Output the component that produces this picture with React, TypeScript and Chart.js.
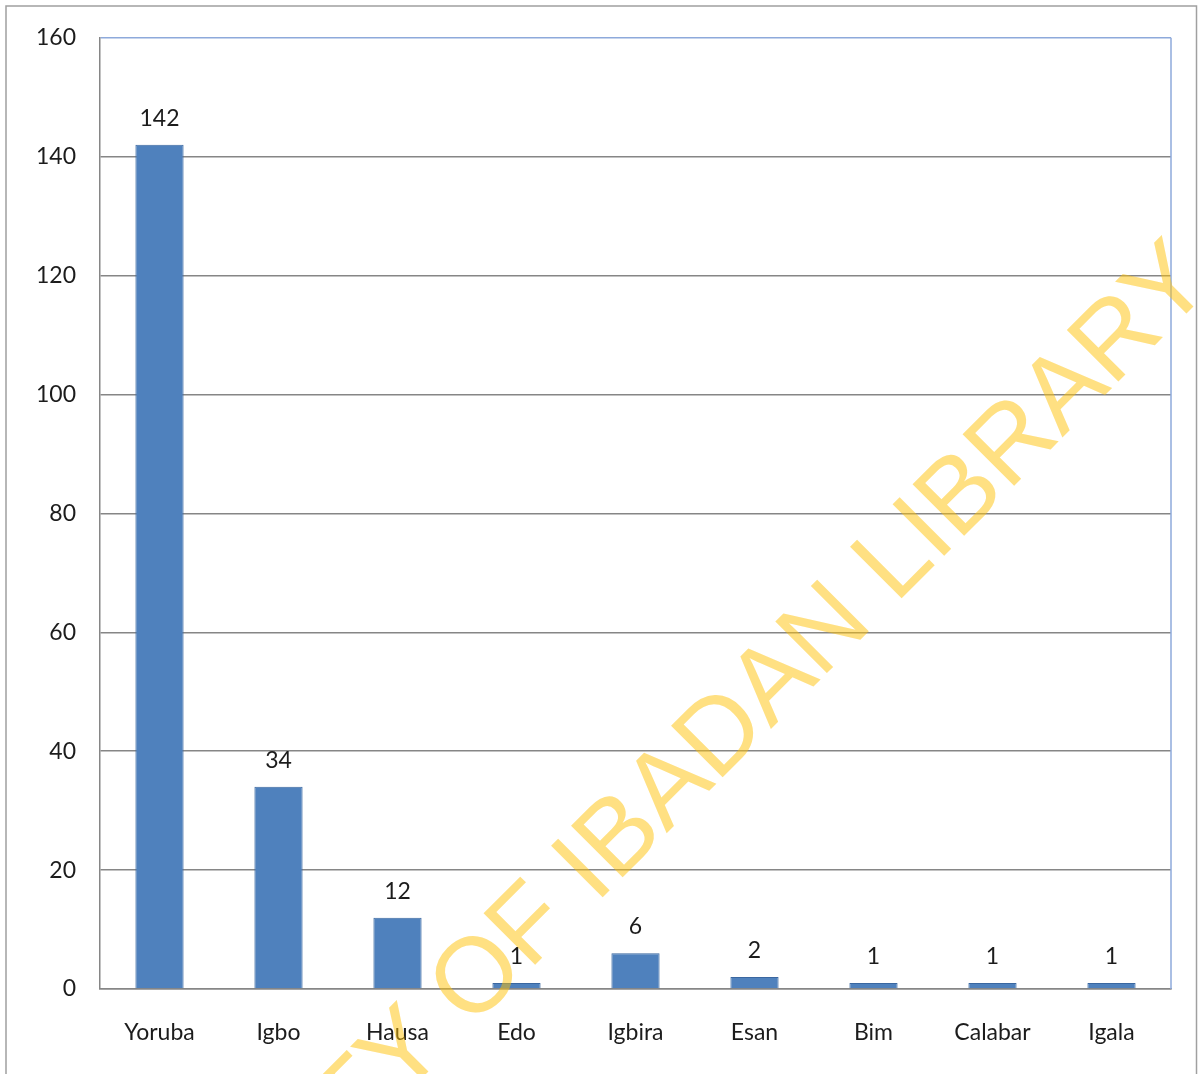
import React, { useEffect, useRef } from "react";
import { Chart, registerables } from "chart.js";

Chart.register(...registerables);

// Ethnic groups and respondent counts
const categories: string[] = ["Yoruba", "Igbo", "Hausa", "Edo", "Igbira", "Esan", "Bim", "Calabar", "Igala"];
const counts: number[] = [142, 34, 12, 1, 6, 2, 1, 1, 1];

// Value axis
const yMin = 0;
const yMax = 160;
const yStep = 20;

const watermarkText = "UNIVERSITY OF IBADAN LIBRARY";

const W = 1199;
const H = 1074;
const FONT = "Lato, 'Open Sans', sans-serif";
const FONT_SIZE = 23;
const TEXT_COLOR = "#1c1c1c";
const GRID_GRAY = "#868686";
const FRAME_BLUE = "#8eaadb";

const framePlugin = {
  id: "frame",
  beforeDraw(chart: any) {
    const { ctx } = chart;
    ctx.save();
    ctx.fillStyle = "#ffffff";
    ctx.fillRect(0, 0, chart.width, chart.height);
    ctx.strokeStyle = "#a0a0a0";
    ctx.lineWidth = 1.5;
    ctx.strokeRect(6, 6, chart.width - 8.5, chart.height + 20);
    ctx.restore();
  },
  beforeDatasetsDraw(chart: any) {
    const { ctx, chartArea } = chart;
    ctx.save();
    ctx.strokeStyle = FRAME_BLUE;
    ctx.lineWidth = 1.5;
    ctx.beginPath();
    ctx.moveTo(chartArea.right, chartArea.top);
    ctx.lineTo(chartArea.right, chartArea.bottom);
    ctx.stroke();
    ctx.restore();
  },
};

const valueLabelPlugin = {
  id: "valueLabels",
  afterDatasetsDraw(chart: any) {
    const { ctx } = chart;
    const meta = chart.getDatasetMeta(0);
    const values = chart.data.datasets[0].data as number[];
    ctx.save();
    ctx.font = `${FONT_SIZE}px ${FONT}`;
    ctx.fillStyle = TEXT_COLOR;
    ctx.textAlign = "center";
    ctx.textBaseline = "alphabetic";
    meta.data.forEach((bar: any, i: number) => {
      ctx.fillText(String(values[i]), bar.x, bar.y - 19);
    });
    ctx.restore();
  },
};

const watermarkPlugin = {
  id: "watermark",
  afterDraw(chart: any) {
    const { ctx } = chart;
    ctx.save();
    ctx.translate(1215, 285);
    ctx.rotate(-Math.PI / 4);
    ctx.font = "106px 'Liberation Sans', Arial, sans-serif";
    ctx.fillStyle = "rgba(255, 193, 5, 0.5)";
    ctx.textAlign = "right";
    ctx.textBaseline = "alphabetic";
    ctx.fillText(watermarkText, 0, 0);
    ctx.restore();
  },
};

export default function App() {
  const canvasRef = useRef<HTMLCanvasElement | null>(null);

  useEffect(() => {
    if (!canvasRef.current) return;
    const chart = new Chart(canvasRef.current, {
      type: "bar",
      data: {
        labels: categories,
        datasets: [
          {
            data: counts,
            backgroundColor: "#4f81bd",
            borderColor: "#3a67a0",
            borderWidth: 1,
            barPercentage: 0.405,
            categoryPercentage: 1,
          },
        ],
      },
      options: {
        responsive: false,
        animation: false,
        devicePixelRatio: 1,
        layout: { padding: { top: 36, right: 28, left: 0, bottom: 0 } },
        plugins: {
          legend: { display: false },
          tooltip: { enabled: false },
          title: { display: false },
        },
        scales: {
          x: {
            grid: { display: true, color: "rgba(0,0,0,0)", drawTicks: false },
            border: { display: true, color: GRID_GRAY, width: 1.5 },
            ticks: {
              font: { family: FONT, size: FONT_SIZE },
              color: TEXT_COLOR,
              padding: 30,
              maxRotation: 0,
            },
            afterFit(scale: any) {
              scale.height = 85;
            },
          },
          y: {
            min: yMin,
            max: yMax,
            grid: {
              color: (c: any) => (c.tick && c.tick.value === yMax ? FRAME_BLUE : GRID_GRAY),
              lineWidth: 1.5,
              drawTicks: false,
            },
            border: { display: true, color: GRID_GRAY, width: 1.5 },
            ticks: {
              stepSize: yStep,
              font: { family: FONT, size: FONT_SIZE },
              color: TEXT_COLOR,
              padding: 24,
            },
            afterFit(scale: any) {
              scale.width = 100;
            },
          },
        },
      },
      plugins: [framePlugin, valueLabelPlugin, watermarkPlugin],
    });
    return () => chart.destroy();
  }, []);

  return (
    <div style={{ position: "absolute", left: 0, top: 0, width: W, height: H, background: "#fff" }}>
      <canvas ref={canvasRef} width={W} height={H} style={{ display: "block" }} />
    </div>
  );
}
